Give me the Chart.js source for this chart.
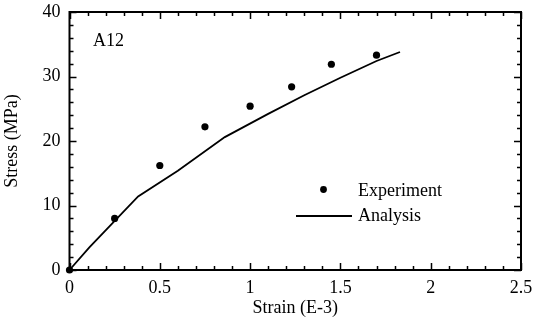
<!DOCTYPE html>
<html>
<head>
<meta charset="utf-8">
<script src="https://cdn.jsdelivr.net/npm/chart.js@4.4.1/dist/chart.umd.min.js"></script>
<style>
  body { margin: 0; background: #fff; }
  canvas { display: block; }
</style>
</head>
<body>
<canvas id="stressChart" width="534" height="320"></canvas>
<script>
// measured points
var strainExp = [0, 0.25, 0.5, 0.75, 1.0, 1.23, 1.45, 1.70];
var stressExp = [0, 8.0, 16.2, 22.2, 25.4, 28.4, 31.9, 33.3];
// analysis curve
var strainFit = [0, 0.11, 0.38, 0.6, 0.86, 1.1, 1.3, 1.5, 1.7, 1.83];
var stressFit = [0, 3.5, 11.4, 15.4, 20.6, 24.2, 27.1, 29.8, 32.4, 33.8];

var xTicks = [0, 0.5, 1, 1.5, 2, 2.5];
var yTicks = [0, 10, 20, 30, 40];
var xMinorStep = 0.1;
var yMinorStep = 2;

var serif = "'Liberation Serif', 'Times New Roman', serif";

function toPoints(xs, ys) {
  return xs.map(function (x, i) { return { x: x, y: ys[i] }; });
}

// frame, inward ticks on all four sides, legend and the specimen tag
var framePlugin = {
  id: 'frame',
  afterDraw: function (chart) {
    var ctx = chart.ctx;
    var a = chart.chartArea;
    var sx = chart.scales.x, sy = chart.scales.y;
    ctx.save();
    ctx.strokeStyle = '#000';
    ctx.lineWidth = 2;
    ctx.strokeRect(a.left, a.top, a.right - a.left, a.bottom - a.top);

    ctx.lineWidth = 1.5;
    ctx.beginPath();
    var v, p, len;
    for (v = 0; v <= 2.5 + 1e-9; v += xMinorStep) {
      p = Math.round(sx.getPixelForValue(v)) + 0.5;
      len = Math.abs(v / 0.5 - Math.round(v / 0.5)) < 1e-6 ? 7 : 4;
      ctx.moveTo(p, a.bottom); ctx.lineTo(p, a.bottom - len);
      ctx.moveTo(p, a.top); ctx.lineTo(p, a.top + len);
    }
    for (v = 0; v <= 40 + 1e-9; v += yMinorStep) {
      p = Math.round(sy.getPixelForValue(v)) + 0.5;
      len = Math.abs(v / 10 - Math.round(v / 10)) < 1e-6 ? 7 : 4;
      ctx.moveTo(a.left, p); ctx.lineTo(a.left + len, p);
      ctx.moveTo(a.right, p); ctx.lineTo(a.right - len, p);
    }
    ctx.stroke();

    // legend
    var ds = chart.data.datasets;
    ctx.fillStyle = '#000';
    ctx.font = '18px ' + serif;
    ctx.textBaseline = 'middle';
    ctx.beginPath();
    ctx.arc(323.5, 189.5, 3.4, 0, Math.PI * 2);
    ctx.fill();
    ctx.fillText(ds[0].label, 358, 191);
    ctx.lineWidth = 2;
    ctx.beginPath();
    ctx.moveTo(296, 216);
    ctx.lineTo(352, 216);
    ctx.stroke();
    ctx.fillText(ds[1].label, 358, 216);

    ctx.fillText('A12', 93, 41);
    ctx.restore();
  }
};

function plainLabel(value) {
  return String(+value.toFixed(2));
}

var ctx = document.getElementById('stressChart').getContext('2d');
var chart = new Chart(ctx, {
  type: 'scatter',
  data: {
    datasets: [{
      label: 'Experiment',
      data: toPoints(strainExp, stressExp),
      pointRadius: 3.6,
      pointBackgroundColor: '#000',
      pointBorderWidth: 0,
      showLine: false,
      clip: false
    }, {
      label: 'Analysis',
      data: toPoints(strainFit, stressFit),
      showLine: true,
      borderColor: '#000',
      borderWidth: 1.8,
      pointRadius: 0,
      tension: 0,
      clip: false
    }]
  },
  options: {
    responsive: false,
    animation: false,
    layout: { padding: 0 },
    plugins: {
      legend: { display: false },
      tooltip: { enabled: false }
    },
    scales: {
      x: {
        type: 'linear',
        min: 0,
        max: 2.5,
        afterBuildTicks: function (scale) {
          scale.ticks = xTicks.map(function (v) { return { value: v }; });
        },
        afterFit: function (scale) {
          scale.height = 50;
          scale.paddingLeft = 0;
          scale.paddingRight = 13;
        },
        grid: { display: false, drawTicks: false },
        border: { display: false },
        ticks: {
          padding: 7,
          color: '#000',
          font: { family: serif, size: 18 },
          maxRotation: 0,
          callback: plainLabel
        },
        title: {
          display: true,
          text: 'Strain (E-3)',
          color: '#000',
          font: { family: serif, size: 18 },
          padding: { top: 0, bottom: 1 }
        }
      },
      y: {
        type: 'linear',
        min: 0,
        max: 40,
        afterBuildTicks: function (scale) {
          scale.ticks = yTicks.map(function (v) { return { value: v }; });
        },
        afterFit: function (scale) {
          scale.width = 69.5;
          scale.paddingTop = 12;
          scale.paddingBottom = 0;
        },
        grid: { display: false, drawTicks: false },
        border: { display: false },
        ticks: {
          padding: 9,
          color: '#000',
          font: { family: serif, size: 18 },
          callback: plainLabel
        },
        title: {
          display: true,
          text: 'Stress (MPa)',
          color: '#000',
          font: { family: serif, size: 18 },
          padding: { top: 1, bottom: 0 }
        }
      }
    }
  },
  plugins: [framePlugin]
});
</script>
</body>
</html>
